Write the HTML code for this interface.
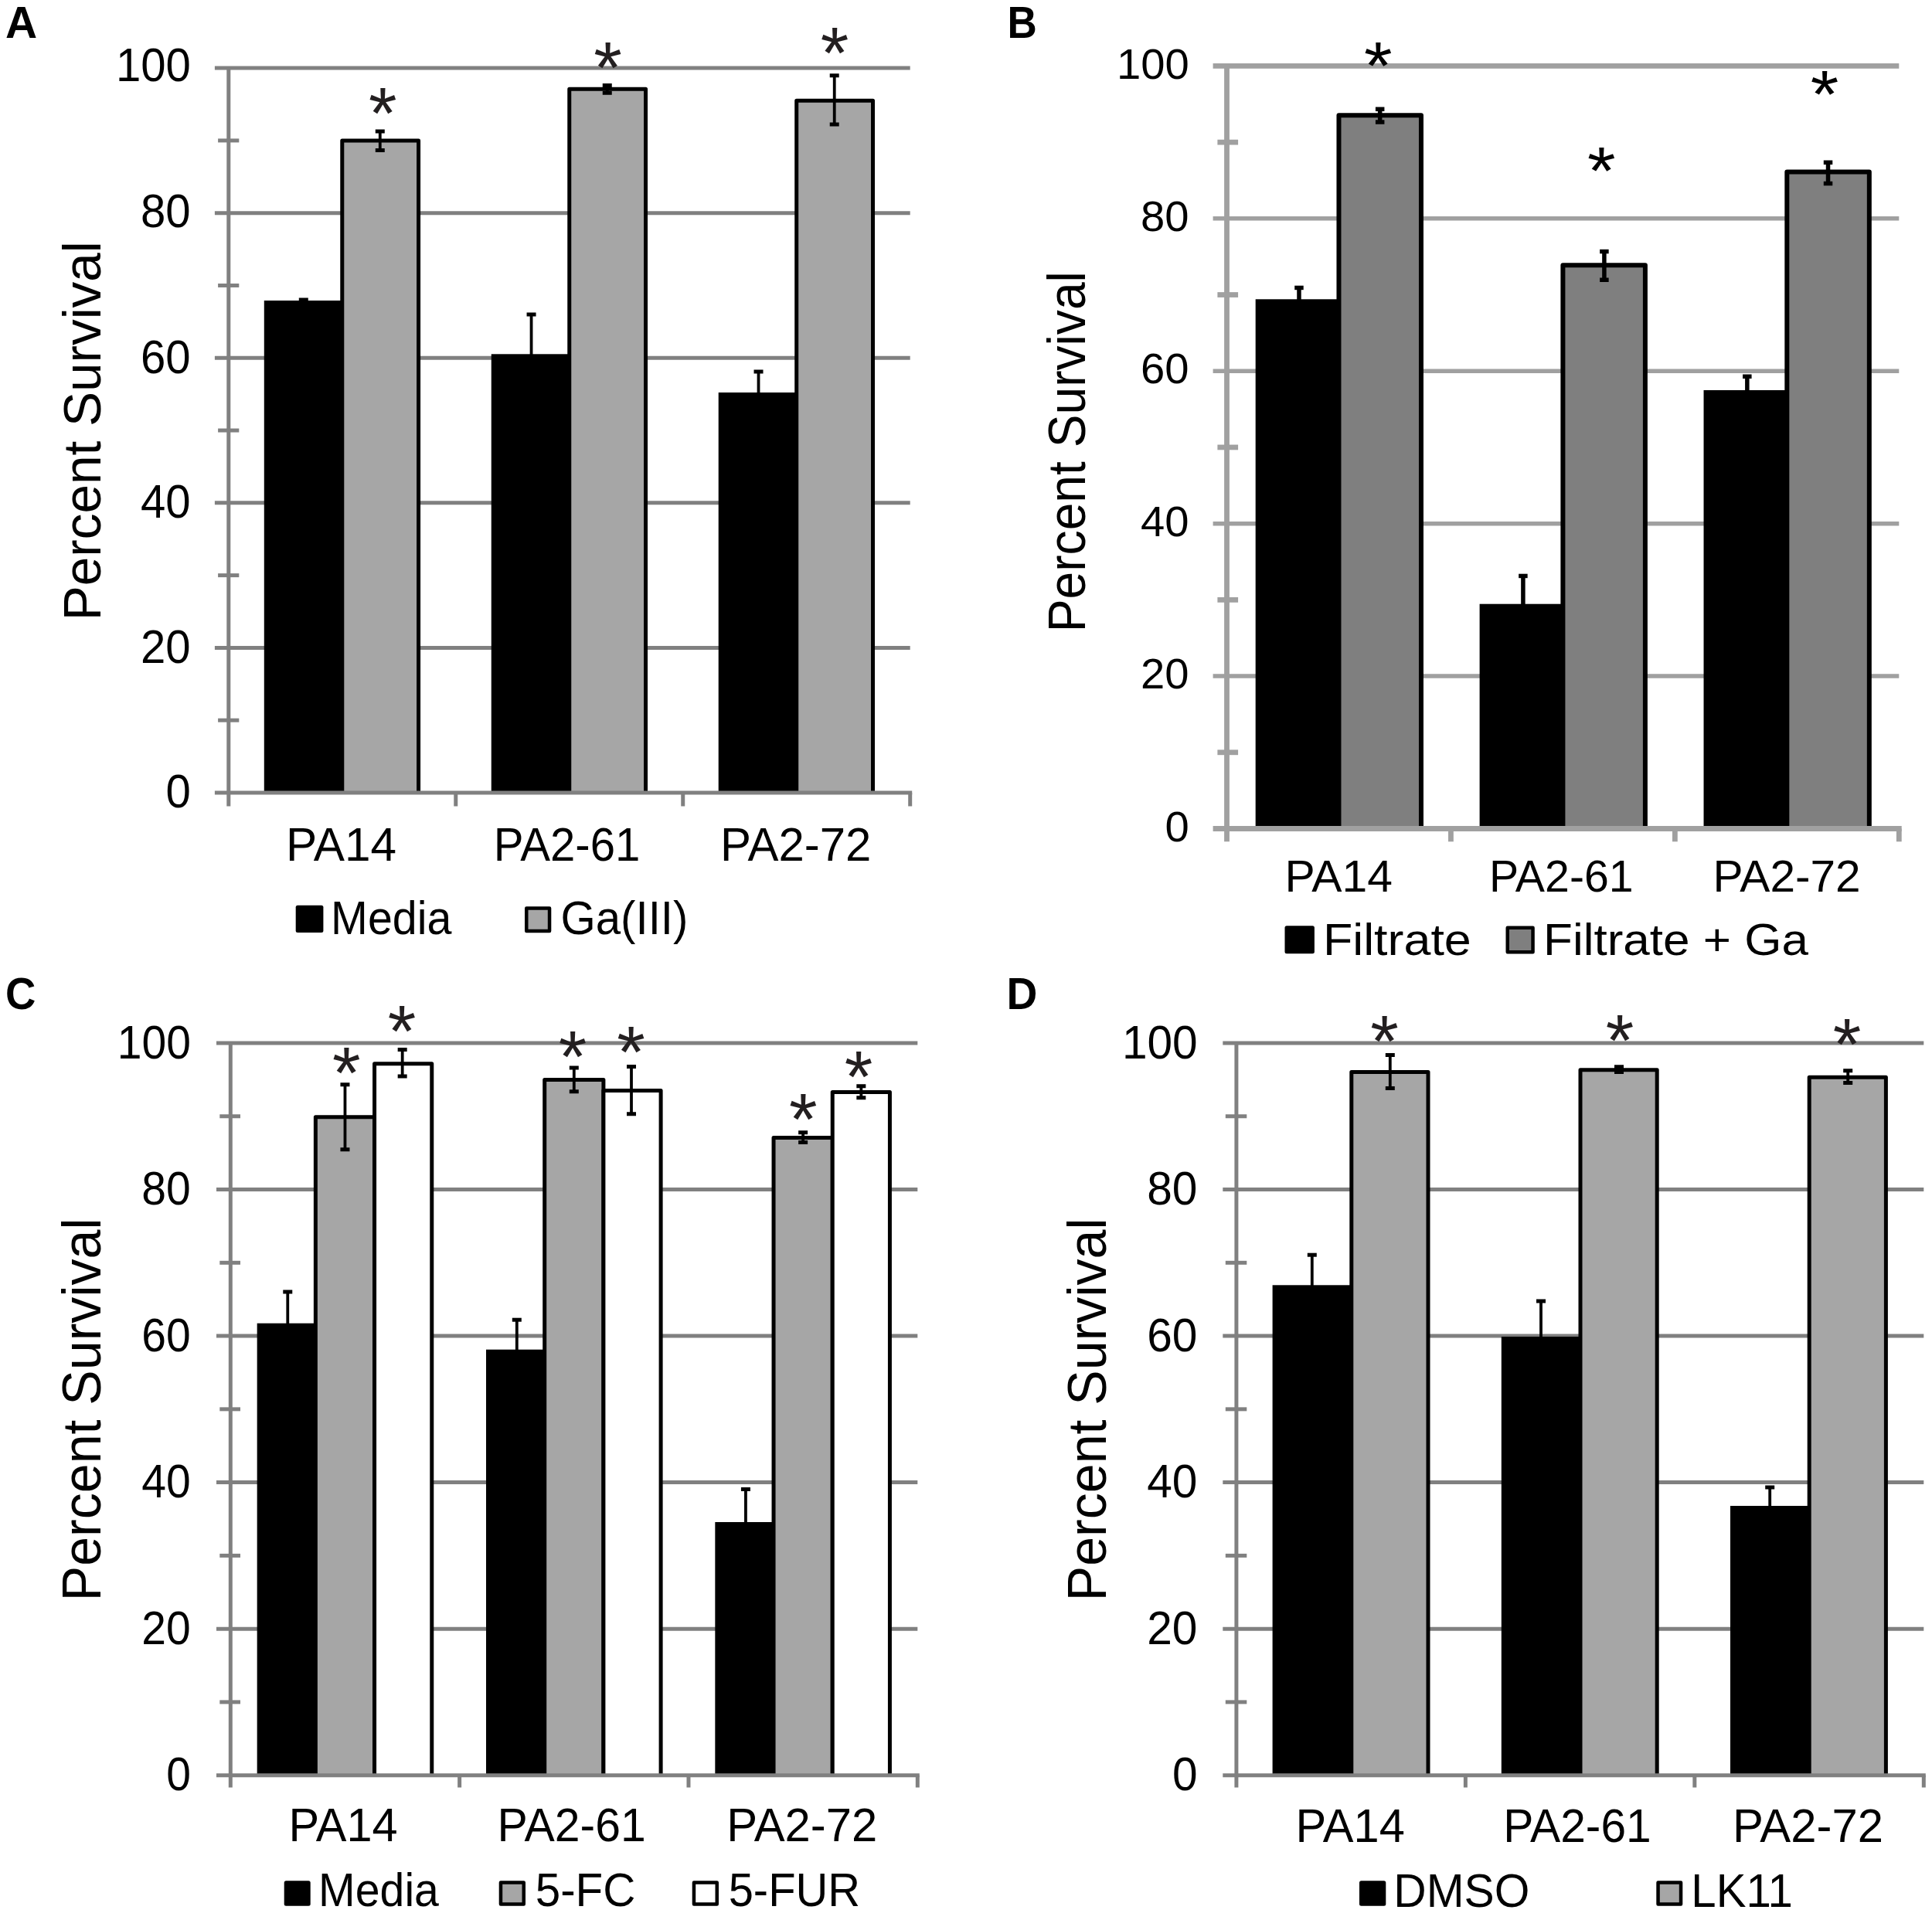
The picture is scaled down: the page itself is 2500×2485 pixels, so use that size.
<!DOCTYPE html>
<html lang="en"><head><meta charset="utf-8"><title>Percent Survival</title>
<style>html,body{margin:0;padding:0;background:#fff}svg{display:block}text{font-family:"Liberation Sans",Arial,Helvetica,sans-serif;white-space:pre}</style></head><body>
<svg width="2500" height="2485" viewBox="0 0 2500 2485">
<rect width="2500" height="2485" fill="#fff"/>
<g>
<g stroke="#808080" stroke-width="5" fill="none">
<path d="M277.9 88.1H1177.7" stroke-width="5"/>
<path d="M277.9 275.68H1177.7" stroke-width="5"/>
<path d="M277.9 463.26H1177.7" stroke-width="5"/>
<path d="M277.9 650.84H1177.7" stroke-width="5"/>
<path d="M277.9 838.42H1177.7" stroke-width="5"/>
</g>
<rect x="341.78" y="389" width="101" height="637" fill="#000"/>
<path d="M442.78 1026V182.1H541.58V1026" fill="#a6a6a6" stroke="#000" stroke-width="5" stroke-linejoin="round"/>
<rect x="635.75" y="458.3" width="101" height="567.7" fill="#000"/>
<path d="M736.75 1026V115.2H835.55V1026" fill="#a6a6a6" stroke="#000" stroke-width="5" stroke-linejoin="round"/>
<rect x="929.72" y="508" width="101" height="518" fill="#000"/>
<path d="M1030.72 1026V130.2H1129.52V1026" fill="#a6a6a6" stroke="#000" stroke-width="5" stroke-linejoin="round"/>
<g stroke="#808080" stroke-width="5" fill="none">
<path d="M295.8 88.1V1043.5"/>
<path d="M277.9 1026H1180.2"/>
<path d="M282.1 181.89H309.3"/>
<path d="M282.1 369.47H309.3"/>
<path d="M282.1 557.05H309.3"/>
<path d="M282.1 744.63H309.3"/>
<path d="M282.1 932.21H309.3"/>
<path d="M589.77 1026V1043.5"/>
<path d="M883.73 1026V1043.5"/>
<path d="M1177.7 1026V1043.5"/>
</g>
<g stroke="#000" fill="none">
<path d="M392.78 388V392" stroke-width="3.8"/>
<path d="M386.78 388h12" stroke-width="5"/>
<path d="M491.78 170V194.6" stroke-width="3.8"/>
<path d="M485.78 170h12M485.78 194.6h12" stroke-width="5"/>
<path d="M687.55 407V462" stroke-width="3.8"/>
<path d="M681.55 407h12" stroke-width="5"/>
<path d="M785.75 110.5V120.2" stroke-width="3.8"/>
<path d="M779.75 110.5h12M779.75 120.2h12" stroke-width="5"/>
<path d="M981.52 481V511" stroke-width="3.8"/>
<path d="M975.52 481h12" stroke-width="5"/>
<path d="M1079.72 97.7V161" stroke-width="3.8"/>
<path d="M1073.72 97.7h12M1073.72 161h12" stroke-width="5"/>
</g>
<text transform="translate(477.07 178.71) scale(1.0000 1.0000)" font-size="94" fill="#231f20">*</text>
<text transform="translate(768.37 119.71) scale(1.0000 1.0000)" font-size="94" fill="#231f20">*</text>
<text transform="translate(1061.67 101.21) scale(1.0000 1.0000)" font-size="94" fill="#231f20">*</text>
<text transform="translate(149.93 104.6) scale(0.9438 1)" font-size="61.6" fill="#000">100</text>
<text transform="translate(181.91 293.88) scale(0.9438 1)" font-size="61.6" fill="#000">80</text>
<text transform="translate(181.91 482.76) scale(0.9438 1)" font-size="61.6" fill="#000">60</text>
<text transform="translate(181.91 669.64) scale(0.9438 1)" font-size="61.6" fill="#000">40</text>
<text transform="translate(181.91 857.92) scale(0.9438 1)" font-size="61.6" fill="#000">20</text>
<text transform="translate(214.47 1044.8) scale(0.9438 1)" font-size="61.6" fill="#000">0</text>
<text transform="translate(370.08 1114) scale(0.9790 1)" font-size="61.6" font-weight="normal" fill="#000">PA14</text>
<text transform="translate(638.65 1114) scale(0.9446 1)" font-size="61.6" font-weight="normal" fill="#000">PA2-61</text>
<text transform="translate(931.9 1114) scale(0.9735 1)" font-size="61.6" font-weight="normal" fill="#000">PA2-72</text>
<rect x="382.7" y="1171.7" width="35.7" height="35.4" rx="2.5" fill="#000"/>
<rect x="681.25" y="1175.55" width="29.8" height="29.5" fill="#a6a6a6" stroke="#000" stroke-width="4.5" stroke-linejoin="round"/>
<text transform="translate(428.11 1208.7) scale(0.9318 1)" font-size="61.6" font-weight="normal" fill="#000">Media</text>
<text transform="translate(725.39 1208.7) scale(0.9454 1)" font-size="61.6" font-weight="normal" fill="#000">Ga(III)</text>
<text transform="translate(129.5 803.3) rotate(-90) scale(0.9772 1)" font-size="69.04" fill="#000">Percent Survival</text>
<text transform="translate(6.99 48.8) scale(0.9908 1)" font-size="57.5" font-weight="bold" fill="#000">A</text>
</g>
<g>
<g stroke="#a0a0a0" stroke-width="6.8" fill="none">
<path d="M1569.6 85.4H2457.3" stroke-width="6.8"/>
<path d="M1569.6 282.82H2457.3" stroke-width="5.5"/>
<path d="M1569.6 480.24H2457.3" stroke-width="5.5"/>
<path d="M1569.6 677.66H2457.3" stroke-width="5.5"/>
<path d="M1569.6 875.08H2457.3" stroke-width="5.5"/>
</g>
<rect x="1624.67" y="387.3" width="107.8" height="685.2" fill="#000"/>
<path d="M1732.47 1072.5V149.2H1838.97V1072.5" fill="#7f7f7f" stroke="#000" stroke-width="6" stroke-linejoin="round"/>
<rect x="1914.6" y="781.7" width="107.8" height="290.8" fill="#000"/>
<path d="M2022.4 1072.5V343.2H2128.9V1072.5" fill="#7f7f7f" stroke="#000" stroke-width="6" stroke-linejoin="round"/>
<rect x="2204.53" y="505" width="107.8" height="567.5" fill="#000"/>
<path d="M2312.33 1072.5V222.5H2418.83V1072.5" fill="#7f7f7f" stroke="#000" stroke-width="6" stroke-linejoin="round"/>
<g stroke="#a0a0a0" stroke-width="6.8" fill="none">
<path d="M1587.5 85.4V1089.3"/>
<path d="M1569.6 1072.5H2460.7"/>
<path d="M1575.4 184.11H1602.1"/>
<path d="M1575.4 381.53H1602.1"/>
<path d="M1575.4 578.95H1602.1"/>
<path d="M1575.4 776.37H1602.1"/>
<path d="M1575.4 973.79H1602.1"/>
<path d="M1877.43 1072.5V1089.3"/>
<path d="M2167.37 1072.5V1089.3"/>
<path d="M2457.3 1072.5V1089.3"/>
</g>
<g stroke="#000" fill="none">
<path d="M1680.97 372.45V392" stroke-width="5.5"/>
<path d="M1675.22 372.45h11.5" stroke-width="5.5"/>
<path d="M1785.67 141.15V158.05" stroke-width="5.5"/>
<path d="M1779.92 141.15h11.5M1779.92 158.05h11.5" stroke-width="5.5"/>
<path d="M1970.9 745.45V786" stroke-width="5.5"/>
<path d="M1965.15 745.45h11.5" stroke-width="5.5"/>
<path d="M2075.9 325.45V362.25" stroke-width="5.5"/>
<path d="M2070.15 325.45h11.5M2070.15 362.25h11.5" stroke-width="5.5"/>
<path d="M2260.83 487.25V510" stroke-width="5.5"/>
<path d="M2255.08 487.25h11.5" stroke-width="5.5"/>
<path d="M2365.53 210.25V237.55" stroke-width="5.5"/>
<path d="M2359.78 210.25h11.5M2359.78 237.55h11.5" stroke-width="5.5"/>
</g>
<text transform="translate(1764.97 114.84) scale(1.0000 0.9200)" font-size="94" fill="#000">*</text>
<text transform="translate(2053.97 251.24) scale(1.0000 0.9200)" font-size="94" fill="#000">*</text>
<text transform="translate(2342.67 152.24) scale(1.0000 0.9200)" font-size="94" fill="#000">*</text>
<text transform="translate(1445.06 101.6) scale(1.0039 1)" font-size="56" fill="#000">100</text>
<text transform="translate(1475.98 299.02) scale(1.0039 1)" font-size="56" fill="#000">80</text>
<text transform="translate(1475.98 496.44) scale(1.0039 1)" font-size="56" fill="#000">60</text>
<text transform="translate(1475.98 693.86) scale(1.0039 1)" font-size="56" fill="#000">40</text>
<text transform="translate(1475.98 891.28) scale(1.0039 1)" font-size="56" fill="#000">20</text>
<text transform="translate(1507.47 1088.7) scale(1.0039 1)" font-size="56" fill="#000">0</text>
<text transform="translate(1662.5 1154.3) scale(1.0318 1)" font-size="57" font-weight="normal" fill="#000">PA14</text>
<text transform="translate(1926.92 1154.3) scale(1.0046 1)" font-size="57" font-weight="normal" fill="#000">PA2-61</text>
<text transform="translate(2216.61 1154.3) scale(1.0280 1)" font-size="57" font-weight="normal" fill="#000">PA2-72</text>
<rect x="1662.5" y="1198.2" width="38.4" height="36" rx="2.5" fill="#000"/>
<rect x="1950.75" y="1200.65" width="32.8" height="31.5" fill="#7f7f7f" stroke="#000" stroke-width="4.5" stroke-linejoin="round"/>
<text transform="translate(1711.88 1236) scale(1.1017 1)" font-size="57" font-weight="normal" fill="#000">Filtrate</text>
<text transform="translate(1997.04 1236) scale(1.0880 1)" font-size="57" font-weight="normal" fill="#000">Filtrate + Ga</text>
<text transform="translate(1404.2 818.23) rotate(-90) scale(0.9273 1)" font-size="69.19" fill="#000">Percent Survival</text>
<text transform="translate(1303.52 49.2) scale(0.9392 1)" font-size="56.5" font-weight="bold" fill="#000">B</text>
</g>
<g>
<g stroke="#808080" stroke-width="5" fill="none">
<path d="M280 1350H1187.3" stroke-width="5"/>
<path d="M280 1539.54H1187.3" stroke-width="5"/>
<path d="M280 1729.08H1187.3" stroke-width="5"/>
<path d="M280 1918.62H1187.3" stroke-width="5"/>
<path d="M280 2108.16H1187.3" stroke-width="5"/>
</g>
<rect x="332.67" y="1712.7" width="75.7" height="585" fill="#000"/>
<path d="M408.37 2297.7V1445.8H484.57V2297.7" fill="#a6a6a6" stroke="#000" stroke-width="5" stroke-linejoin="round"/>
<path d="M484.57 2297.7V1376.8H558.77V2297.7" fill="#fff" stroke="#000" stroke-width="5" stroke-linejoin="round"/>
<rect x="629" y="1746.7" width="75.7" height="551" fill="#000"/>
<path d="M704.7 2297.7V1397.5H780.9V2297.7" fill="#a6a6a6" stroke="#000" stroke-width="5" stroke-linejoin="round"/>
<path d="M780.9 2297.7V1411.5H855.1V2297.7" fill="#fff" stroke="#000" stroke-width="5" stroke-linejoin="round"/>
<rect x="925.33" y="1970" width="75.7" height="327.7" fill="#000"/>
<path d="M1001.03 2297.7V1472.5H1077.23V2297.7" fill="#a6a6a6" stroke="#000" stroke-width="5" stroke-linejoin="round"/>
<path d="M1077.23 2297.7V1413.5H1151.43V2297.7" fill="#fff" stroke="#000" stroke-width="5" stroke-linejoin="round"/>
<g stroke="#808080" stroke-width="5" fill="none">
<path d="M298.3 1350V2313.5"/>
<path d="M280 2297.7H1189.8"/>
<path d="M284.3 1444.77H311"/>
<path d="M284.3 1634.31H311"/>
<path d="M284.3 1823.85H311"/>
<path d="M284.3 2013.39H311"/>
<path d="M284.3 2202.93H311"/>
<path d="M594.63 2297.7V2313.5"/>
<path d="M890.97 2297.7V2313.5"/>
<path d="M1187.3 2297.7V2313.5"/>
</g>
<g stroke="#000" fill="none">
<path d="M372.27 1672V1716" stroke-width="3.8"/>
<path d="M366.27 1672h12" stroke-width="5"/>
<path d="M446.47 1403.7V1487.8" stroke-width="3.8"/>
<path d="M440.47 1403.7h12M440.47 1487.8h12" stroke-width="5"/>
<path d="M520.67 1358.6V1393.1" stroke-width="3.8"/>
<path d="M514.67 1358.6h12M514.67 1393.1h12" stroke-width="5"/>
<path d="M668.8 1708.2V1750" stroke-width="3.8"/>
<path d="M662.8 1708.2h12" stroke-width="5"/>
<path d="M742.8 1381.9V1412.7" stroke-width="3.8"/>
<path d="M736.8 1381.9h12M736.8 1412.7h12" stroke-width="5"/>
<path d="M817 1380.4V1441.8" stroke-width="3.8"/>
<path d="M811 1380.4h12M811 1441.8h12" stroke-width="5"/>
<path d="M964.93 1927.5V1974" stroke-width="3.8"/>
<path d="M958.93 1927.5h12" stroke-width="5"/>
<path d="M1039.13 1465.7V1478.5" stroke-width="3.8"/>
<path d="M1033.13 1465.7h12M1033.13 1478.5h12" stroke-width="5"/>
<path d="M1114.33 1405.7V1420.7" stroke-width="3.8"/>
<path d="M1108.33 1405.7h12M1108.33 1420.7h12" stroke-width="5"/>
</g>
<text transform="translate(429.97 1420.81) scale(1.0000 1.0000)" font-size="94" fill="#231f20">*</text>
<text transform="translate(501.67 1366.51) scale(1.0000 1.0000)" font-size="94" fill="#231f20">*</text>
<text transform="translate(722.67 1399.71) scale(1.0000 1.0000)" font-size="94" fill="#231f20">*</text>
<text transform="translate(798.37 1394.41) scale(1.0000 1.0000)" font-size="94" fill="#231f20">*</text>
<text transform="translate(1020.97 1481.01) scale(1.0000 1.0000)" font-size="94" fill="#231f20">*</text>
<text transform="translate(1092.67 1426.01) scale(1.0000 1.0000)" font-size="94" fill="#231f20">*</text>
<text transform="translate(151.81 1369.5) scale(0.9262 1)" font-size="61.6" fill="#000">100</text>
<text transform="translate(183.18 1559.04) scale(0.9262 1)" font-size="61.6" fill="#000">80</text>
<text transform="translate(183.18 1748.58) scale(0.9262 1)" font-size="61.6" fill="#000">60</text>
<text transform="translate(183.18 1938.12) scale(0.9262 1)" font-size="61.6" fill="#000">40</text>
<text transform="translate(183.18 2127.66) scale(0.9262 1)" font-size="61.6" fill="#000">20</text>
<text transform="translate(215.13 2317.2) scale(0.9262 1)" font-size="61.6" fill="#000">0</text>
<text transform="translate(373.54 2383.2) scale(0.9654 1)" font-size="61.6" font-weight="normal" fill="#000">PA14</text>
<text transform="translate(643.59 2383.2) scale(0.9564 1)" font-size="61.6" font-weight="normal" fill="#000">PA2-61</text>
<text transform="translate(940.22 2383.2) scale(0.9704 1)" font-size="61.6" font-weight="normal" fill="#000">PA2-72</text>
<rect x="367.7" y="2434.3" width="34" height="32.4" rx="2.5" fill="#000"/>
<rect x="647.95" y="2436.55" width="29.8" height="27.9" fill="#a6a6a6" stroke="#000" stroke-width="4.5" stroke-linejoin="round"/>
<rect x="897.95" y="2436.55" width="29.8" height="27.9" fill="#fff" stroke="#000" stroke-width="4.5" stroke-linejoin="round"/>
<text transform="translate(412.12 2467.2) scale(0.9287 1)" font-size="61.6" font-weight="normal" fill="#000">Media</text>
<text transform="translate(692.66 2467.2) scale(0.9482 1)" font-size="61.6" font-weight="normal" fill="#000">5-FC</text>
<text transform="translate(942.68 2467.2) scale(0.9398 1)" font-size="61.6" font-weight="normal" fill="#000">5-FUR</text>
<text transform="translate(129.6 2072.25) rotate(-90) scale(0.9762 1)" font-size="69.77" fill="#000">Percent Survival</text>
<text transform="translate(7.02 1306.1) scale(0.9422 1)" font-size="57.8" font-weight="bold" fill="#000">C</text>
</g>
<g>
<g stroke="#808080" stroke-width="5" fill="none">
<path d="M1582.3 1350H2489.3" stroke-width="5"/>
<path d="M1582.3 1539.54H2489.3" stroke-width="5"/>
<path d="M1582.3 1729.08H2489.3" stroke-width="5"/>
<path d="M1582.3 1918.62H2489.3" stroke-width="5"/>
<path d="M1582.3 2108.16H2489.3" stroke-width="5"/>
</g>
<rect x="1646.6" y="1663.3" width="102.2" height="634.4" fill="#000"/>
<path d="M1748.8 2297.7V1387.5H1848V2297.7" fill="#a6a6a6" stroke="#000" stroke-width="5" stroke-linejoin="round"/>
<rect x="1942.8" y="1730" width="102.2" height="567.7" fill="#000"/>
<path d="M2045 2297.7V1384.8H2144.2V2297.7" fill="#a6a6a6" stroke="#000" stroke-width="5" stroke-linejoin="round"/>
<rect x="2239" y="1949" width="102.2" height="348.7" fill="#000"/>
<path d="M2341.2 2297.7V1394.2H2440.4V2297.7" fill="#a6a6a6" stroke="#000" stroke-width="5" stroke-linejoin="round"/>
<g stroke="#808080" stroke-width="5" fill="none">
<path d="M1599.9 1350V2313.5"/>
<path d="M1582.3 2297.7H2491.8"/>
<path d="M1585.8 1444.77H1613.3"/>
<path d="M1585.8 1634.31H1613.3"/>
<path d="M1585.8 1823.85H1613.3"/>
<path d="M1585.8 2013.39H1613.3"/>
<path d="M1585.8 2202.93H1613.3"/>
<path d="M1896.37 2297.7V2313.5"/>
<path d="M2192.83 2297.7V2313.5"/>
<path d="M2489.3 2297.7V2313.5"/>
</g>
<g stroke="#000" fill="none">
<path d="M1697.8 1624.2V1667" stroke-width="3.8"/>
<path d="M1691.8 1624.2h12" stroke-width="5"/>
<path d="M1798.8 1365.4V1408.4" stroke-width="3.8"/>
<path d="M1792.8 1365.4h12M1792.8 1408.4h12" stroke-width="5"/>
<path d="M1994 1684V1734" stroke-width="3.8"/>
<path d="M1988 1684h12" stroke-width="5"/>
<path d="M2095 1380.8V1387.5" stroke-width="3.8"/>
<path d="M2089 1380.8h12M2089 1387.5h12" stroke-width="5"/>
<path d="M2290.2 1925V1953" stroke-width="3.8"/>
<path d="M2284.2 1925h12" stroke-width="5"/>
<path d="M2391.2 1385.8V1401.5" stroke-width="3.8"/>
<path d="M2385.2 1385.8h12M2385.2 1401.5h12" stroke-width="5"/>
</g>
<text transform="translate(1773.37 1380.21) scale(1.0000 1.0000)" font-size="94" fill="#231f20">*</text>
<text transform="translate(2077.67 1379.41) scale(1.0000 1.0000)" font-size="94" fill="#231f20">*</text>
<text transform="translate(2371.67 1383.51) scale(1.0000 1.0000)" font-size="94" fill="#231f20">*</text>
<text transform="translate(1451.89 1369.5) scale(0.9522 1)" font-size="61.6" fill="#000">100</text>
<text transform="translate(1484.15 1559.04) scale(0.9522 1)" font-size="61.6" fill="#000">80</text>
<text transform="translate(1484.15 1748.58) scale(0.9522 1)" font-size="61.6" fill="#000">60</text>
<text transform="translate(1484.15 1938.12) scale(0.9522 1)" font-size="61.6" fill="#000">40</text>
<text transform="translate(1484.15 2127.66) scale(0.9522 1)" font-size="61.6" fill="#000">20</text>
<text transform="translate(1517 2317.2) scale(0.9522 1)" font-size="61.6" fill="#000">0</text>
<text transform="translate(1676.54 2384) scale(0.9669 1)" font-size="61.6" font-weight="normal" fill="#000">PA14</text>
<text transform="translate(1945.3 2384) scale(0.9528 1)" font-size="61.6" font-weight="normal" fill="#000">PA2-61</text>
<text transform="translate(2241.92 2384) scale(0.9709 1)" font-size="61.6" font-weight="normal" fill="#000">PA2-72</text>
<rect x="1759" y="2434.3" width="34.3" height="32.4" rx="2.5" fill="#000"/>
<rect x="2145.55" y="2436.55" width="29.5" height="27.9" fill="#a6a6a6" stroke="#000" stroke-width="4.5" stroke-linejoin="round"/>
<text transform="translate(1803.31 2467.7) scale(0.9526 1)" font-size="61.6" font-weight="normal" fill="#000">DMSO</text>
<text transform="translate(2188.35 2467.7) scale(0.9444 1)" font-size="61.6" font-weight="normal" fill="#000">LK11</text>
<text transform="translate(1431.4 2072.25) rotate(-90) scale(0.9762 1)" font-size="69.77" fill="#000">Percent Survival</text>
<text transform="translate(1302.49 1305.8) scale(0.9543 1)" font-size="57.8" font-weight="bold" fill="#000">D</text>
</g>
</svg></body></html>
